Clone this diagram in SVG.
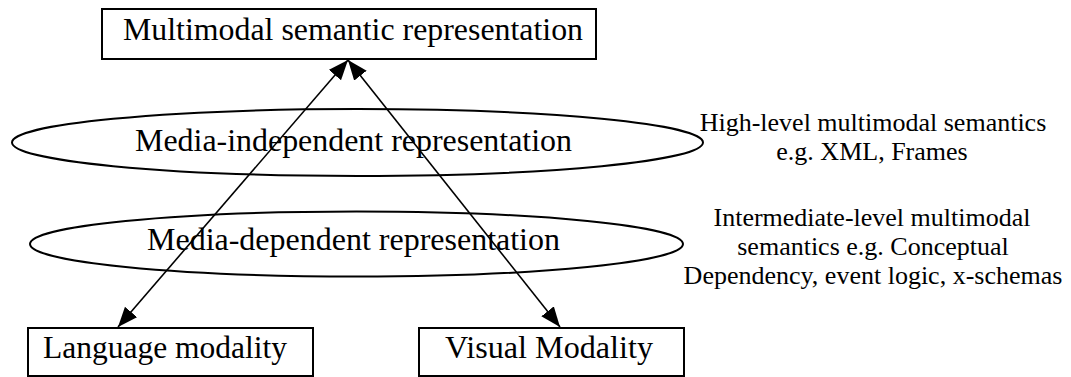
<svg xmlns="http://www.w3.org/2000/svg" width="1071" height="377" viewBox="0 0 1071 377">
  <style>
    .box { fill: #ffffff; stroke: #000000; stroke-width: 2; }
    .ell { fill: none; stroke: #000000; stroke-width: 2; }
    .lbl { font-family: "Liberation Serif", "Times New Roman", serif; font-size: 32px; fill: #000000; }
    .note { font-family: "Liberation Serif", "Times New Roman", serif; font-size: 26px; fill: #000000; text-anchor: middle; }
    .conn { stroke: #000000; stroke-width: 1.6; fill: none; }
  </style>
  <defs>
    <marker id="head" markerUnits="userSpaceOnUse" markerWidth="22" markerHeight="18" refX="20" refY="8" orient="auto-start-reverse" viewBox="0 0 22 18">
      <path d="M0,0 L20,8 L0,16 z" fill="#000000"/>
    </marker>
  </defs>
  <rect width="1071" height="377" fill="#ffffff"/>

  <!-- layer ellipses -->
  <g id="media-independent">
    <ellipse class="ell" cx="357.5" cy="142.5" rx="345.5" ry="33.5"/>
    <text class="lbl" x="135" y="151" font-size="33" textLength="437" lengthAdjust="spacingAndGlyphs">Media-independent representation</text>
  </g>
  <g id="media-dependent">
    <ellipse class="ell" cx="356.5" cy="244" rx="326.5" ry="32.5"/>
    <text class="lbl" x="147" y="250" font-size="33" textLength="413" lengthAdjust="spacingAndGlyphs">Media-dependent representation</text>
  </g>

  <!-- boxes -->
  <g id="multimodal">
    <rect class="box" x="102" y="9" width="494" height="50"/>
    <text class="lbl" x="123" y="40" textLength="460" lengthAdjust="spacingAndGlyphs">Multimodal semantic representation</text>
  </g>
  <g id="language">
    <rect class="box" x="28" y="328" width="285" height="48"/>
    <text class="lbl" x="43" y="358" textLength="244" lengthAdjust="spacingAndGlyphs">Language modality</text>
  </g>
  <g id="visual">
    <rect class="box" x="419" y="328" width="265" height="48"/>
    <text class="lbl" x="445" y="358" textLength="208" lengthAdjust="spacingAndGlyphs">Visual Modality</text>
  </g>

  <!-- side annotations -->
  <g id="high-level-note">
    <text class="note" x="873" y="131">High-level multimodal semantics</text>
    <text class="note" x="872" y="160">e.g. XML, Frames</text>
  </g>
  <g id="intermediate-note">
    <text class="note" x="872" y="226">Intermediate-level multimodal</text>
    <text class="note" x="873" y="255">semantics e.g. Conceptual</text>
    <text class="note" x="873" y="284">Dependency, event logic, x-schemas</text>
  </g>

  <!-- double-headed connectors -->
  <g id="connectors">
    <line class="conn" x1="348" y1="60" x2="118" y2="327" marker-start="url(#head)" marker-end="url(#head)"/>
    <line class="conn" x1="348" y1="60" x2="560" y2="327" marker-start="url(#head)" marker-end="url(#head)"/>
  </g>
</svg>
